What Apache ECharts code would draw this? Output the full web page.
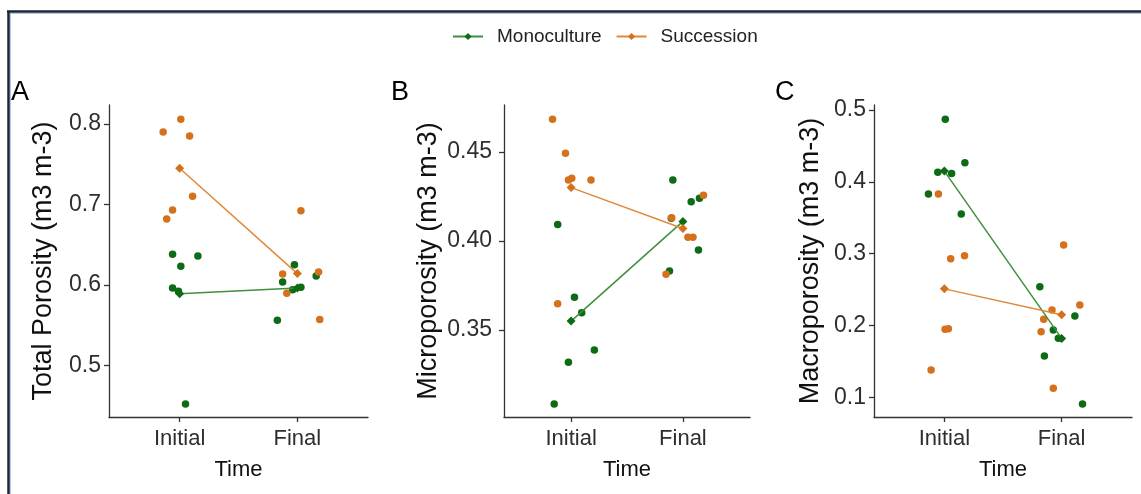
<!DOCTYPE html>
<html>
<head>
<meta charset="utf-8">
<script src="https://cdn.jsdelivr.net/npm/echarts@6/dist/echarts.min.js"></script>
<style>
html,body{margin:0;padding:0;background:#fff;}
#chart{width:1141px;height:494px;}
</style>
</head>
<body>
<div id="chart"></div>
<script>
// ---------- data ----------
const timeLabels = ['Initial', 'Final'];
const timePositions = [1, 2];
const seriesNames = ['Monoculture', 'Succession'];
const panelLetters = ['A', 'B', 'C'];
const yTitles = ['Total Porosity (m3 m-3)', 'Microporosity (m3 m-3)', 'Macroporosity (m3 m-3)'];
const yTicksA = [0.5, 0.6, 0.7, 0.8];
const yTicksB = [0.35, 0.40, 0.45];
const yTicksC = [0.1, 0.2, 0.3, 0.4, 0.5];

// Panel A - Total porosity (jittered x position, value)
const monoA_x = [0.94, 1.155, 1.01, 0.94, 0.99, 1.05, 1.975, 1.875, 1.96, 2.03, 2.16, 1.83];
const monoA_y = [0.638, 0.636, 0.623, 0.596, 0.592, 0.452, 0.625, 0.6035, 0.594, 0.597, 0.611, 0.556];
const succA_x = [0.86, 1.01, 1.085, 1.11, 0.94, 0.89, 1.875, 2.03, 2.18, 1.91, 2.19];
const succA_y = [0.790, 0.806, 0.785, 0.710, 0.693, 0.682, 0.6135, 0.692, 0.616, 0.5895, 0.557];
const monoMeanA = [0.589, 0.596];
const succMeanA = [0.745, 0.614];

// Panel B - Microporosity
const monoB_x = [0.88, 1.03, 1.095, 1.208, 0.976, 0.849, 1.91, 1.896, 2.074, 2.148, 2.139, 1.88];
const monoB_y = [0.4092, 0.3684, 0.3597, 0.3388, 0.3318, 0.3084, 0.4343, 0.4127, 0.4221, 0.424, 0.395, 0.3831];
const succB_x = [0.834, 0.95, 0.976, 1.006, 1.178, 0.88, 1.849, 1.90, 2.045, 2.09, 2.184];
const succB_y = [0.4684, 0.4493, 0.4343, 0.4352, 0.4343, 0.3648, 0.3813, 0.413, 0.4021, 0.4021, 0.4257];
const monoMeanB = [0.355, 0.411];
const succMeanB = [0.430, 0.407];

// Panel C - Macroporosity
const monoC_x = [1.008, 1.175, 0.944, 1.062, 0.864, 1.144, 1.814, 1.929, 1.972, 1.853, 2.113, 2.178];
const monoC_y = [0.487, 0.4267, 0.4132, 0.4118, 0.383, 0.3552, 0.254, 0.1937, 0.1821, 0.1575, 0.2132, 0.0907];
const succC_x = [0.949, 1.054, 1.172, 1.006, 1.034, 0.887, 2.017, 2.155, 1.918, 1.847, 1.825, 1.929];
const succC_y = [0.383, 0.293, 0.2972, 0.1947, 0.1956, 0.138, 0.312, 0.2285, 0.2216, 0.2086, 0.1914, 0.1125];
const monoMeanC = [0.415, 0.182];
const succMeanC = [0.251, 0.215];

// ---------- styling / layout ----------
const GREEN = '#0c6b14';
const ORANGE = '#d5701c';
const GREEN_LINE = '#3f8f3f';
const ORANGE_LINE = '#e0883a';
const AXIS_COLOR = '#333333';
const FONT = 'Liberation Sans, Arial, sans-serif';

const panels = [
  { left: 109, width: 259, min: 0.4357, max: 0.8236, ticks: yTicksA, dec: 1, labelMargin: 8, nameGap: 52,
    mono: [monoA_x, monoA_y], succ: [succA_x, succA_y], monoMean: monoMeanA, succMean: succMeanA, letterX: 11 },
  { left: 504, width: 246, min: 0.3011, max: 0.4764, ticks: yTicksB, dec: 2, labelMargin: 12, nameGap: 62,
    mono: [monoB_x, monoB_y], succ: [succB_x, succB_y], monoMean: monoMeanB, succMean: succMeanB, letterX: 391 },
  { left: 874, width: 258, min: 0.0726, max: 0.507, ticks: yTicksC, dec: 1, labelMargin: 8, nameGap: 50,
    mono: [monoC_x, monoC_y], succ: [succC_x, succC_y], monoMean: monoMeanC, succMean: succMeanC, letterX: 775 }
];
const GRID_TOP = 105, GRID_H = 312;

const grids = [], xAxes = [], yAxes = [], lineSeries = [], scatterSeries = [], graphics = [];

panels.forEach((p, i) => {
  grids.push({ left: p.left, top: GRID_TOP, width: p.width, height: GRID_H, containLabel: false });
  xAxes.push({
    type: 'value', gridIndex: i, min: 0.4, max: 2.6,
    name: 'Time', nameLocation: 'middle', nameGap: 42,
    nameTextStyle: { fontSize: 22, color: '#111', fontFamily: FONT },
    axisLine: { show: true, lineStyle: { color: AXIS_COLOR, width: 1.3 } },
    axisTick: { show: true, length: 5, customValues: timePositions, lineStyle: { color: AXIS_COLOR, width: 1.3 } },
    axisLabel: {
      customValues: timePositions, margin: 11, fontSize: 22, color: '#2e2e2e', fontFamily: FONT,
      formatter: v => timeLabels[timePositions.indexOf(Math.round(v))] || ''
    },
    splitLine: { show: false }
  });
  yAxes.push({
    type: 'value', gridIndex: i, min: p.min, max: p.max,
    name: yTitles[i], nameLocation: 'middle', nameGap: p.nameGap, nameRotate: 90,
    nameTextStyle: { fontSize: 27, color: '#111', fontFamily: FONT },
    axisLine: { show: true, lineStyle: { color: AXIS_COLOR, width: 1.3 } },
    axisTick: { show: true, length: 5, customValues: p.ticks, lineStyle: { color: AXIS_COLOR, width: 1.3 } },
    axisLabel: {
      customValues: p.ticks, margin: p.labelMargin, fontSize: 23, color: '#2e2e2e', fontFamily: FONT,
      formatter: v => Number(v).toFixed(p.dec)
    },
    splitLine: { show: false }
  });
  const pairs = (xs, ys) => xs.map((x, k) => [x, ys[k]]);
  lineSeries.push({
    name: seriesNames[0], type: 'line', xAxisIndex: i, yAxisIndex: i, z: 4,
    data: timePositions.map((t, k) => [t, p.monoMean[k]]),
    symbol: 'diamond', symbolSize: 9, showSymbol: true,
    lineStyle: { color: GREEN_LINE, width: 1.5 }, itemStyle: { color: GREEN },
    emphasis: { disabled: true }, silent: true, animation: false
  });
  lineSeries.push({
    name: seriesNames[1], type: 'line', xAxisIndex: i, yAxisIndex: i, z: 4,
    data: timePositions.map((t, k) => [t, p.succMean[k]]),
    symbol: 'diamond', symbolSize: 9, showSymbol: true,
    lineStyle: { color: ORANGE_LINE, width: 1.5 }, itemStyle: { color: ORANGE },
    emphasis: { disabled: true }, silent: true, animation: false
  });
  scatterSeries.push({
    name: seriesNames[0], type: 'scatter', xAxisIndex: i, yAxisIndex: i, z: 3,
    data: pairs(p.mono[0], p.mono[1]), symbolSize: 7.5, itemStyle: { color: GREEN, opacity: 1 },
    animation: false
  });
  scatterSeries.push({
    name: seriesNames[1], type: 'scatter', xAxisIndex: i, yAxisIndex: i, z: 3,
    data: pairs(p.succ[0], p.succ[1]), symbolSize: 7.5, itemStyle: { color: ORANGE, opacity: 1 },
    animation: false
  });
  graphics.push({
    type: 'text', left: p.letterX, top: 79,
    style: { text: panelLetters[i], fontSize: 27, fill: '#000', fontFamily: FONT }
  });
});

// frame lines of the figure
graphics.push({ type: 'line', shape: { x1: 8.5, y1: 11, x2: 8.5, y2: 494 }, style: { stroke: '#1b2334', lineWidth: 2.5 } });
graphics.push({ type: 'line', shape: { x1: 7, y1: 11.5, x2: 1141, y2: 11.5 }, style: { stroke: '#1b2334', lineWidth: 2.5 } });
graphics.push({ type: 'line', shape: { x1: 10.5, y1: 13, x2: 10.5, y2: 494 }, style: { stroke: '#a9c7e8', lineWidth: 1 } });
graphics.push({ type: 'line', shape: { x1: 10, y1: 13.5, x2: 1141, y2: 13.5 }, style: { stroke: '#a9c7e8', lineWidth: 1 } });

const chart = echarts.init(document.getElementById('chart'), null, { renderer: 'canvas' });
chart.setOption({
  backgroundColor: '#ffffff',
  animation: false,
  legend: {
    data: seriesNames, left: 447, top: 22,
    itemWidth: 30, itemHeight: 9, itemGap: 14,
    textStyle: { fontSize: 19, color: '#222', fontFamily: FONT, padding: [0, 0, 0, 9] }
  },
  grid: grids,
  xAxis: xAxes,
  yAxis: yAxes,
  series: lineSeries.concat(scatterSeries),
  graphic: graphics
});
</script>
</body>
</html>
